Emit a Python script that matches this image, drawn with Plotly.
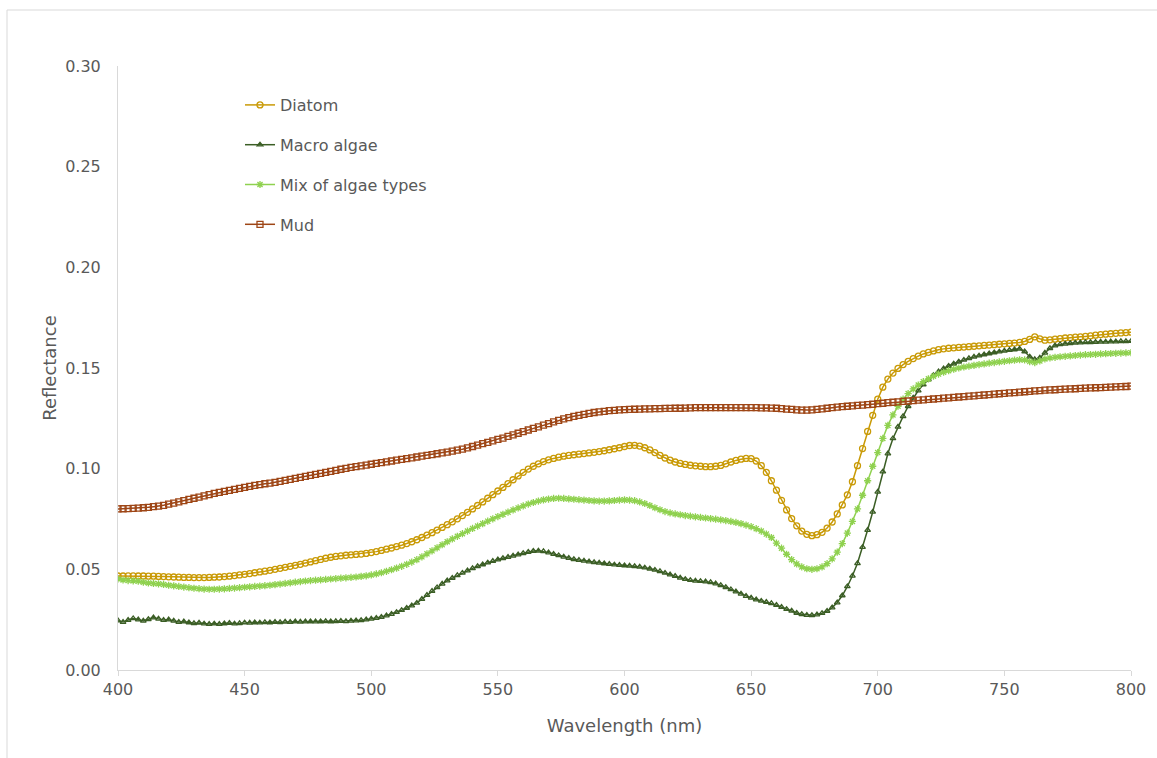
import plotly.graph_objects as go

# Wavelength grid (nm), 2 nm steps 400..800
wavelength = list(range(400, 801, 2))

diatom = [
    0.0467, 0.0467, 0.0468, 0.0468, 0.0467, 0.0467, 0.0466, 0.0466, 0.0465, 0.0464,
    0.0463, 0.0462, 0.0461, 0.0460, 0.0460, 0.0459, 0.0459, 0.0459, 0.0460, 0.0461,
    0.0462, 0.0464, 0.0466, 0.0469, 0.0472, 0.0475, 0.0479, 0.0483, 0.0487, 0.0491,
    0.0495, 0.0500, 0.0505, 0.0510, 0.0515, 0.0520, 0.0525, 0.0531, 0.0537, 0.0543,
    0.0549, 0.0555, 0.0560, 0.0564, 0.0567, 0.0570, 0.0572, 0.0574, 0.0576, 0.0579,
    0.0583, 0.0588, 0.0594, 0.0600, 0.0606, 0.0613, 0.0620, 0.0628, 0.0637, 0.0647,
    0.0658, 0.0670, 0.0682, 0.0695, 0.0708, 0.0722, 0.0736, 0.0751, 0.0767, 0.0783,
    0.0800, 0.0817, 0.0835, 0.0853, 0.0871, 0.0889, 0.0907, 0.0926, 0.0945, 0.0964,
    0.0982, 0.0998, 0.1012, 0.1024, 0.1035, 0.1044, 0.1051, 0.1057, 0.1062, 0.1066,
    0.1069, 0.1072, 0.1075, 0.1078, 0.1081, 0.1085, 0.1089, 0.1094, 0.1099, 0.1104,
    0.1110, 0.1115, 0.1116, 0.1112, 0.1104, 0.1093, 0.1080, 0.1066, 0.1053, 0.1042,
    0.1033, 0.1026, 0.1021, 0.1017, 0.1014, 0.1012, 0.1010, 0.1010, 0.1012, 0.1016,
    0.1024, 0.1033, 0.1041, 0.1047, 0.1051, 0.1050, 0.1038, 0.1015, 0.0982, 0.0940,
    0.0893, 0.0843, 0.0795, 0.0752, 0.0716, 0.0690, 0.0674, 0.0667, 0.0672, 0.0684,
    0.0705, 0.0735, 0.0775, 0.0820, 0.0870, 0.0935, 0.1015, 0.1100, 0.1185, 0.1265,
    0.1345, 0.1405, 0.1445, 0.1475, 0.1498, 0.1517, 0.1533, 0.1547, 0.1559, 0.1570,
    0.1578, 0.1585, 0.1591, 0.1595, 0.1598, 0.1600, 0.1602, 0.1604, 0.1606, 0.1608,
    0.1610, 0.1612, 0.1614, 0.1616, 0.1618, 0.1620, 0.1622, 0.1624, 0.1627, 0.1632,
    0.1642, 0.1655, 0.1645, 0.1638, 0.1640, 0.1643, 0.1646, 0.1649, 0.1651, 0.1653,
    0.1655, 0.1657, 0.1660, 0.1663, 0.1666, 0.1668, 0.1670, 0.1672, 0.1674, 0.1676,
    0.1678,
]

macro_algae = [
    0.0245, 0.0238, 0.0248, 0.0256, 0.0250, 0.0244, 0.0252, 0.0260, 0.0254, 0.0248,
    0.0250, 0.0244, 0.0238, 0.0240, 0.0236, 0.0232, 0.0234, 0.0230, 0.0228, 0.0230,
    0.0228, 0.0231, 0.0233, 0.0230, 0.0232, 0.0235, 0.0234, 0.0236, 0.0235, 0.0237,
    0.0236, 0.0238, 0.0237, 0.0239, 0.0238, 0.0240, 0.0239, 0.0240, 0.0241, 0.0240,
    0.0241, 0.0242, 0.0241, 0.0242, 0.0243, 0.0242, 0.0244, 0.0245, 0.0247, 0.0250,
    0.0254, 0.0258, 0.0263, 0.0270, 0.0278, 0.0287, 0.0297, 0.0308, 0.0320, 0.0333,
    0.0352, 0.0372, 0.0392, 0.0410, 0.0428, 0.0444, 0.0457, 0.0470, 0.0482, 0.0494,
    0.0505, 0.0515, 0.0524, 0.0533, 0.0541, 0.0548, 0.0555, 0.0561, 0.0567, 0.0573,
    0.0580, 0.0586, 0.0591, 0.0592, 0.0589, 0.0583, 0.0576, 0.0569, 0.0562, 0.0556,
    0.0550, 0.0546, 0.0542, 0.0538, 0.0535, 0.0532, 0.0529, 0.0526, 0.0523, 0.0521,
    0.0519, 0.0517, 0.0515, 0.0512, 0.0508, 0.0503, 0.0497, 0.0490, 0.0482, 0.0474,
    0.0466, 0.0458, 0.0451, 0.0446, 0.0443, 0.0441, 0.0439, 0.0435, 0.0429, 0.0421,
    0.0411, 0.0400, 0.0389, 0.0378, 0.0367, 0.0358, 0.0350, 0.0343, 0.0337, 0.0331,
    0.0322, 0.0312, 0.0302, 0.0294, 0.0283, 0.0277, 0.0273, 0.0272, 0.0275, 0.0282,
    0.0293, 0.0310, 0.0335, 0.0370, 0.0415, 0.0468, 0.0530, 0.0610, 0.0695, 0.0785,
    0.0885, 0.0985, 0.1075, 0.1150, 0.1208, 0.1260, 0.1310, 0.1352, 0.1388, 0.1418,
    0.1443, 0.1464, 0.1482, 0.1497, 0.1510, 0.1521, 0.1531, 0.1540, 0.1548, 0.1555,
    0.1561, 0.1567, 0.1572, 0.1577, 0.1581, 0.1585, 0.1589, 0.1592, 0.1595, 0.1582,
    0.1556, 0.1543, 0.1550, 0.1575, 0.1598, 0.1611, 0.1617, 0.1620, 0.1623, 0.1625,
    0.1626, 0.1627, 0.1628, 0.1629, 0.1630, 0.1630, 0.1631, 0.1631, 0.1632, 0.1632,
    0.1633,
]

mix_algae = [
    0.0452, 0.0447, 0.0444, 0.0443, 0.0441, 0.0436, 0.0432, 0.0430, 0.0428, 0.0425,
    0.0421, 0.0418, 0.0415, 0.0412, 0.0409, 0.0406, 0.0404, 0.0402, 0.0401, 0.0401,
    0.0402, 0.0403, 0.0405, 0.0407, 0.0409, 0.0411, 0.0413, 0.0415, 0.0417, 0.0419,
    0.0421, 0.0424, 0.0427, 0.0430, 0.0433, 0.0436, 0.0439, 0.0442, 0.0444, 0.0446,
    0.0448, 0.0450, 0.0452, 0.0454, 0.0456, 0.0458, 0.0460, 0.0462, 0.0465, 0.0468,
    0.0472, 0.0477, 0.0483, 0.0490, 0.0498, 0.0506, 0.0515, 0.0525, 0.0536, 0.0548,
    0.0562, 0.0577, 0.0592, 0.0607, 0.0622, 0.0637, 0.0651, 0.0664, 0.0677, 0.0690,
    0.0703, 0.0715, 0.0727, 0.0739, 0.0751, 0.0762, 0.0773, 0.0784, 0.0795, 0.0805,
    0.0815, 0.0824, 0.0832, 0.0839, 0.0845, 0.0849, 0.0852, 0.0853, 0.0852, 0.0850,
    0.0848, 0.0846, 0.0844, 0.0842, 0.0840, 0.0839, 0.0839, 0.0840, 0.0842, 0.0844,
    0.0845, 0.0844, 0.0841, 0.0835, 0.0827, 0.0817, 0.0806, 0.0796, 0.0787, 0.0780,
    0.0775, 0.0771, 0.0767, 0.0764, 0.0761, 0.0758, 0.0755, 0.0752, 0.0749, 0.0746,
    0.0742, 0.0738, 0.0733, 0.0727, 0.0720, 0.0712, 0.0702, 0.0690, 0.0675, 0.0658,
    0.0630, 0.0605, 0.0575, 0.0548, 0.0527, 0.0512, 0.0503, 0.0500, 0.0503, 0.0512,
    0.0528, 0.0552, 0.0585, 0.0628, 0.0680, 0.0738, 0.0800, 0.0868, 0.0940, 0.1012,
    0.1080, 0.1150, 0.1215, 0.1267, 0.1310, 0.1345, 0.1373, 0.1396, 0.1415, 0.1432,
    0.1446, 0.1459, 0.1470, 0.1479, 0.1487, 0.1494, 0.1500, 0.1505, 0.1509, 0.1513,
    0.1517, 0.1520, 0.1524, 0.1527, 0.1530, 0.1533, 0.1536, 0.1539, 0.1541, 0.1540,
    0.1532, 0.1527, 0.1535, 0.1545, 0.1550, 0.1553, 0.1556, 0.1558, 0.1560, 0.1562,
    0.1564, 0.1566, 0.1567, 0.1568, 0.1570, 0.1571, 0.1572, 0.1573, 0.1574, 0.1575,
    0.1576,
]

mud = [
    0.0800, 0.0801, 0.0802, 0.0803, 0.0804, 0.0806, 0.0808, 0.0811, 0.0814, 0.0818,
    0.0824, 0.0829, 0.0835, 0.0841, 0.0847, 0.0853, 0.0859, 0.0865, 0.0871, 0.0877,
    0.0882, 0.0887, 0.0892, 0.0897, 0.0902, 0.0907, 0.0912, 0.0917, 0.0921, 0.0925,
    0.0928, 0.0932, 0.0937, 0.0942, 0.0947, 0.0952, 0.0957, 0.0962, 0.0967, 0.0972,
    0.0977, 0.0982, 0.0987, 0.0992, 0.0997, 0.1001, 0.1006, 0.1010, 0.1014, 0.1018,
    0.1022, 0.1026, 0.1030, 0.1034, 0.1038, 0.1042, 0.1046, 0.1050, 0.1054, 0.1058,
    0.1062, 0.1066, 0.1070, 0.1074, 0.1078, 0.1082, 0.1087, 0.1092, 0.1097, 0.1103,
    0.1110, 0.1117, 0.1124, 0.1131, 0.1138, 0.1145, 0.1152, 0.1160, 0.1168, 0.1176,
    0.1184, 0.1192, 0.1200, 0.1208, 0.1216, 0.1224, 0.1232, 0.1240, 0.1247, 0.1254,
    0.1260, 0.1265, 0.1270, 0.1275, 0.1279, 0.1282, 0.1285, 0.1288, 0.1290, 0.1292,
    0.1293, 0.1294, 0.1295, 0.1296, 0.1297, 0.1297, 0.1298, 0.1298, 0.1299, 0.1299,
    0.1300, 0.1300, 0.1301, 0.1302, 0.1303, 0.1303, 0.1303, 0.1303, 0.1303, 0.1303,
    0.1303, 0.1303, 0.1303, 0.1303, 0.1303, 0.1303, 0.1303, 0.1302, 0.1302, 0.1301,
    0.1300, 0.1298, 0.1296, 0.1294, 0.1292, 0.1291, 0.1291, 0.1292, 0.1294, 0.1297,
    0.1300, 0.1303, 0.1306, 0.1308, 0.1310, 0.1312, 0.1314, 0.1316, 0.1318, 0.1320,
    0.1323, 0.1325, 0.1328, 0.1330, 0.1332, 0.1334, 0.1336, 0.1338, 0.1340, 0.1342,
    0.1344, 0.1346, 0.1348, 0.1350, 0.1352, 0.1354, 0.1356, 0.1358, 0.1360, 0.1362,
    0.1364, 0.1366, 0.1368, 0.1370, 0.1372, 0.1374, 0.1376, 0.1378, 0.1380, 0.1382,
    0.1384, 0.1386, 0.1388, 0.1390, 0.1391, 0.1392, 0.1394, 0.1395, 0.1396, 0.1397,
    0.1399, 0.1400, 0.1401, 0.1402, 0.1403, 0.1404, 0.1405, 0.1406, 0.1407, 0.1408,
    0.1410,
]

series_names = ["Diatom", "Macro algae", "Mix of algae types", "Mud"]
x_ticks = [400, 450, 500, 550, 600, 650, 700, 750, 800]
y_ticks = [0.00, 0.05, 0.10, 0.15, 0.20, 0.25, 0.30]

styles = [
    dict(color="#C99A06", symbol="circle-open", size=6),
    dict(color="#3B5E25", symbol="triangle-up-open", size=5),
    dict(color="#8FD14F", symbol="asterisk-open", size=6),
    dict(color="#9E4616", symbol="square-open", size=6),
]

TEXT = "#595959"
FONT = "DejaVu Sans"

fig = go.Figure()
for i, (name, ys, st) in enumerate(zip(series_names, [diatom, macro_algae, mix_algae, mud], styles)):
    fig.add_trace(go.Scatter(
        x=wavelength, y=ys, name=name, mode="lines+markers",
        legendgroup="g%d" % i,
        line=dict(color=st["color"], width=1.5),
        marker=dict(symbol=st["symbol"], size=st["size"], color=st["color"],
                    line=dict(color=st["color"], width=1.3)),
    ))

W, H = 1157, 758
L, R, T, B = 118, 26, 66, 88
pw, ph = W - L - R, H - T - B

def px_x(p):
    return (p - L) / pw

def px_y(p):
    return (H - B - p) / ph

fig.update_layout(
    width=W, height=H,
    margin=dict(l=L, r=R, t=T, b=B),
    paper_bgcolor="white", plot_bgcolor="white",
    font=dict(family=FONT, color=TEXT, size=16),
    showlegend=True,
    legend=dict(
        x=px_x(240), y=px_y(88), xanchor="left", yanchor="top",
        traceorder="grouped", tracegroupgap=16,
        font=dict(family=FONT, size=16, color=TEXT),
        bgcolor="rgba(0,0,0,0)",
    ),
    xaxis=dict(
        range=[400, 800], tickvals=x_ticks, ticktext=[str(v) for v in x_ticks],
        showgrid=False, zeroline=False,
        showline=True, linecolor="#D9D9D9", linewidth=1,
        ticks="outside", ticklen=5, tickcolor="#D9D9D9",
        tickfont=dict(family=FONT, size=16, color=TEXT),
        title=dict(text="Wavelength (nm)", font=dict(family=FONT, size=18, color=TEXT), standoff=21),
    ),
    yaxis=dict(
        range=[0, 0.30], tickvals=y_ticks, ticktext=["%.2f" % v for v in y_ticks],
        showgrid=False, zeroline=False,
        showline=True, linecolor="#D9D9D9", linewidth=1,
        ticks="", ticklabelstandoff=13,
        tickfont=dict(family=FONT, size=16, color=TEXT),
        title=dict(text="Reflectance", font=dict(family=FONT, size=18, color=TEXT), standoff=3),
    ),
    shapes=[dict(
        type="rect", xref="paper", yref="paper",
        x0=px_x(7), x1=px_x(1170), y0=px_y(770), y1=px_y(10),
        line=dict(color="#D9D9D9", width=1), fillcolor="rgba(0,0,0,0)", layer="below",
    )],
)

fig.write_html("out.html")
